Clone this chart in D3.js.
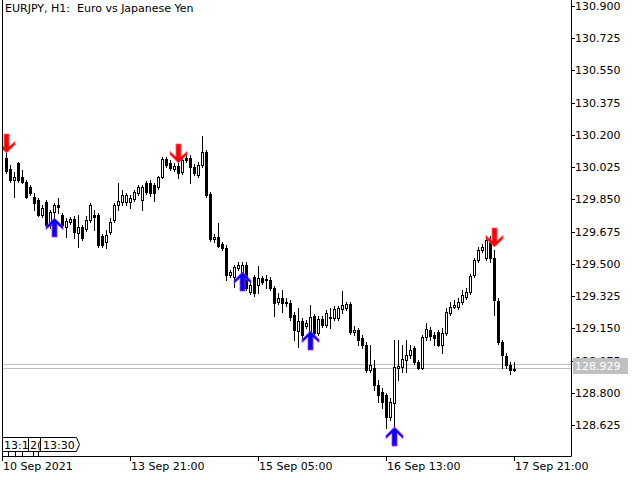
<!DOCTYPE html>
<html><head><meta charset="utf-8">
<script src="https://cdn.jsdelivr.net/npm/d3@7"></script>
<style>
body{margin:0;background:#fff}
svg{display:block}
text{font-family:'DejaVu Sans',sans-serif;font-size:11px;white-space:pre}
</style>
</head><body>
<svg id="c" width="640" height="480"></svg>
<script>
// ---- data (EURJPY H1, 128 bars) ----
const opens=[130.075,130.015,129.955,130.048,129.972,129.944,129.917,129.863,129.847,129.765,
129.836,129.711,129.782,129.820,129.765,129.700,129.727,129.743,129.667,129.700,
129.689,129.738,129.765,129.765,129.651,129.619,129.673,129.738,129.820,129.836,
129.836,129.836,129.852,129.885,129.847,129.939,129.939,129.928,129.917,129.972,
130.069,130.048,130.015,130.031,129.999,130.075,130.075,130.026,129.983,130.037,
130.107,129.879,129.635,129.646,129.608,129.586,129.439,129.429,129.477,129.456,
129.494,129.347,129.429,129.385,129.423,129.412,129.412,129.369,129.293,129.314,
129.287,129.287,129.222,129.135,129.190,129.162,129.124,129.217,129.124,129.200,
129.168,129.206,129.206,129.206,129.255,129.260,129.282,129.130,129.141,129.097,
129.059,128.923,128.934,128.842,128.804,128.788,128.668,128.744,128.934,128.940,
128.978,129.005,129.043,128.967,128.934,129.103,129.141,129.114,129.130,129.059,
129.124,129.233,129.266,129.266,129.293,129.320,129.347,129.439,129.521,129.575,
129.532,129.629,129.532,129.298,129.076,129.000,128.951,128.923];
const highs=[130.102,130.037,129.999,130.053,130.010,129.955,129.928,129.885,129.857,129.820,
129.847,129.792,129.830,129.857,129.776,129.749,129.754,129.760,129.765,129.711,
129.760,129.830,129.792,129.776,129.662,129.684,129.749,129.830,129.939,129.901,
129.885,129.874,129.901,129.928,129.928,129.950,129.955,129.939,129.977,130.080,
130.080,130.064,130.048,130.053,130.086,130.107,130.091,130.042,130.053,130.194,
130.118,129.890,129.662,129.722,129.619,129.602,129.466,129.494,129.510,129.510,
129.510,129.401,129.439,129.488,129.434,129.439,129.429,129.380,129.342,129.358,
129.314,129.304,129.239,129.260,129.206,129.195,129.277,129.228,129.217,129.217,
129.249,129.260,129.271,129.271,129.352,129.293,129.293,129.162,129.152,129.114,
129.076,129.059,128.978,128.869,128.826,128.799,128.772,129.086,129.086,129.059,
129.086,129.059,129.054,128.978,129.114,129.179,129.157,129.130,129.141,129.152,
129.260,129.293,129.304,129.314,129.358,129.369,129.445,129.532,129.592,129.608,
129.640,129.651,129.575,129.314,129.086,129.016,128.967,128.967];
const lows=[129.993,129.944,129.863,129.944,129.939,129.857,129.874,129.792,129.760,129.754,
129.700,129.695,129.754,129.776,129.700,129.646,129.716,129.640,129.592,129.629,
129.678,129.727,129.684,129.592,129.592,129.586,129.662,129.727,129.792,129.820,
129.820,129.803,129.841,129.874,129.792,129.879,129.868,129.841,129.906,129.966,
130.026,130.010,130.004,129.966,129.988,130.053,129.939,129.983,129.972,130.026,
129.863,129.624,129.619,129.592,129.575,129.412,129.429,129.374,129.466,129.445,
129.358,129.336,129.325,129.342,129.391,129.369,129.358,129.217,129.282,129.239,
129.271,129.195,129.086,129.048,129.097,129.152,129.108,129.108,129.114,129.157,
129.157,129.152,129.195,129.195,129.233,129.249,129.119,129.114,129.059,129.043,
128.913,128.913,128.815,128.750,128.717,128.609,128.652,128.609,128.869,128.913,
128.913,128.989,128.956,128.929,128.929,129.086,129.086,129.059,129.054,129.016,
129.114,129.222,129.260,129.255,129.282,129.309,129.336,129.429,129.510,129.564,
129.521,129.510,129.222,129.065,128.934,128.934,128.902,128.918];
const closes=[130.004,129.955,129.972,129.955,129.944,129.863,129.885,129.830,129.765,129.803,
129.711,129.782,129.820,129.809,129.711,129.733,129.743,129.673,129.700,129.640,
129.738,129.820,129.754,129.602,129.602,129.657,129.727,129.820,129.841,129.874,
129.874,129.857,129.890,129.917,129.917,129.890,129.885,129.885,129.972,130.069,
130.037,130.020,130.031,129.993,130.064,130.064,130.026,129.993,130.037,130.107,
129.874,129.635,129.646,129.597,129.586,129.439,129.456,129.483,129.494,129.494,
129.369,129.385,129.342,129.423,129.401,129.418,129.369,129.287,129.314,129.287,
129.293,129.211,129.141,129.190,129.114,129.179,129.211,129.124,129.200,129.168,
129.233,129.211,129.255,129.260,129.277,129.282,129.130,129.141,129.086,129.059,
128.923,128.951,128.842,128.788,128.750,128.668,128.750,128.940,128.945,128.983,
129.005,129.032,128.967,128.934,129.103,129.146,129.108,129.097,129.059,129.124,
129.239,129.266,129.277,129.293,129.331,129.347,129.434,129.521,129.575,129.592,
129.629,129.532,129.304,129.076,129.005,128.951,128.923,128.929];

const firstLabel="10 Sep 2021";
const xTickIdx=[31,63,95,127];
const xTickLabels=["13 Sep 21:00","15 Sep 05:00","16 Sep 13:00","17 Sep 21:00"];
const yTicks=[128.625,128.800,128.975,129.150,129.325,129.500,129.675,129.850,130.025,130.200,130.375,130.550,130.725,130.900];
const buyIdx=[12,59,76,97];
const buyPrice=[129.749,129.456,129.135,128.614];
const sellIdx=[0,43,122];
const sellPrice=[130.102,130.048,129.592];
const bidPrice=128.929, askPrice=128.951;
const title="EURJPY, H1:  Euro vs Japanese Yen";
const tagLabels=["13:1","2(","13:30"];

// ---- drawing ----
const svg=d3.select("#c");
const L=2,R=571,T=0,B=456;
const x=d3.scaleLinear().domain([0,127]).range([6,514]);
const y=d3.scaleLinear().domain([128.625,130.9]).range([425,6]);
const py=v=>Math.round(y(v));

svg.append("defs").append("clipPath").attr("id","plot")
  .append("rect").attr("x",L+1).attr("y",T).attr("width",R-L-1).attr("height",B-T);

// frame
svg.append("path").attr("d",`M${L+0.5},0 V${B+0.5} H${R+0.5} V0`)
  .attr("fill","none").attr("stroke","#000").attr("stroke-width",1);

// bid / ask lines
const g=svg.append("g").attr("clip-path","url(#plot)");
[askPrice,bidPrice].forEach(v=>{
  g.append("line").attr("x1",L).attr("x2",R).attr("y1",py(v)-0.5).attr("y2",py(v)-0.5)
   .attr("stroke","#c0c0c0").attr("stroke-width",1);
});

// candles
const data=opens.map((o,i)=>({i,o,h:highs[i],l:lows[i],c:closes[i]}));
const cg=g.append("g").attr("shape-rendering","crispEdges");
data.forEach(d=>{
  const cx=Math.round(x(d.i));
  cg.append("line").attr("x1",cx+0.5).attr("x2",cx+0.5)
    .attr("y1",py(d.h)).attr("y2",py(d.l)+1).attr("stroke","#000");
  const top=Math.min(py(d.o),py(d.c)), bot=Math.max(py(d.o),py(d.c));
  if(d.c>=d.o){
    cg.append("rect").attr("x",cx-0.5).attr("y",top+0.5).attr("width",2).attr("height",Math.max(bot-top,1))
      .attr("fill","#fff").attr("stroke","#000");
  } else {
    cg.append("rect").attr("x",cx-1).attr("y",top).attr("width",3).attr("height",Math.max(bot-top+1,2))
      .attr("fill","#000");
  }
});

// arrows
const arrowPath="M0,0 L8.5,8.5 L8.5,11.5 L2.5,6 L2.5,19 L-2.5,19 L-2.5,6 L-8.5,11.5 L-8.5,8.5 Z";
buyIdx.forEach((idx,k)=>{
  g.append("path").attr("d",arrowPath)
   .attr("transform",`translate(${Math.round(x(idx))+0.5},${py(buyPrice[k])})`)
   .attr("fill","#0000ff").attr("stroke","#b030ff").attr("stroke-width",0.8);
});
sellIdx.forEach((idx,k)=>{
  g.append("path").attr("d",arrowPath)
   .attr("transform",`translate(${Math.round(x(idx))+0.5},${py(sellPrice[k])}) scale(1,-1)`)
   .attr("fill","#ff0000").attr("stroke","#ff6070").attr("stroke-width",0.8);
});

// price axis
const ya=svg.append("g");
yTicks.forEach(v=>{
  ya.append("line").attr("x1",R).attr("x2",R+4).attr("y1",py(v)+0.5).attr("y2",py(v)+0.5).attr("stroke","#000");
  ya.append("text").attr("x",R+4).attr("y",py(v)+4).text(v.toFixed(3));
});
// bid label box
ya.append("rect").attr("x",R+2).attr("y",py(bidPrice)-11).attr("width",55).attr("height",16).attr("fill","#c0c0c0");
ya.append("text").attr("x",R+4).attr("y",py(bidPrice)+1).attr("fill","#fff").text(bidPrice.toFixed(3));

// time axis
const xa=svg.append("g");
xa.append("line").attr("x1",L+0.5).attr("x2",L+0.5).attr("y1",B).attr("y2",B+5).attr("stroke","#000");
xa.append("text").attr("x",L+1).attr("y",B+14).text(firstLabel);
xTickIdx.forEach((idx,k)=>{
  const xx=Math.round(x(idx))+0.5;
  xa.append("line").attr("x1",xx).attr("x2",xx).attr("y1",B).attr("y2",B+5).attr("stroke","#000");
  xa.append("text").attr("x",xx+0.5).attr("y",B+14).text(xTickLabels[k]);
});

// title
svg.append("text").attr("x",5).attr("y",12).text(title);

// time tags bottom-left
const tg=svg.append("g").attr("fill","none").attr("stroke","#000");
tg.append("path").attr("d","M2.5,437.5 H28.5 V451.5 H2.5 Z");
tg.append("path").attr("d","M28.5,437.5 H40.5 V451.5 H28.5 Z");
tg.append("path").attr("d","M40.5,437.5 H76.5 L79.5,444.5 L76.5,451.5 H40.5 Z");
[8,15,22,33,38].forEach(xx=>tg.append("line").attr("x1",xx+0.5).attr("x2",xx+0.5).attr("y1",452).attr("y2",456));
const tx=[4,30,43];
tagLabels.forEach((t,k)=>svg.append("text").attr("x",tx[k]).attr("y",449).text(t));
</script>
</body></html>
